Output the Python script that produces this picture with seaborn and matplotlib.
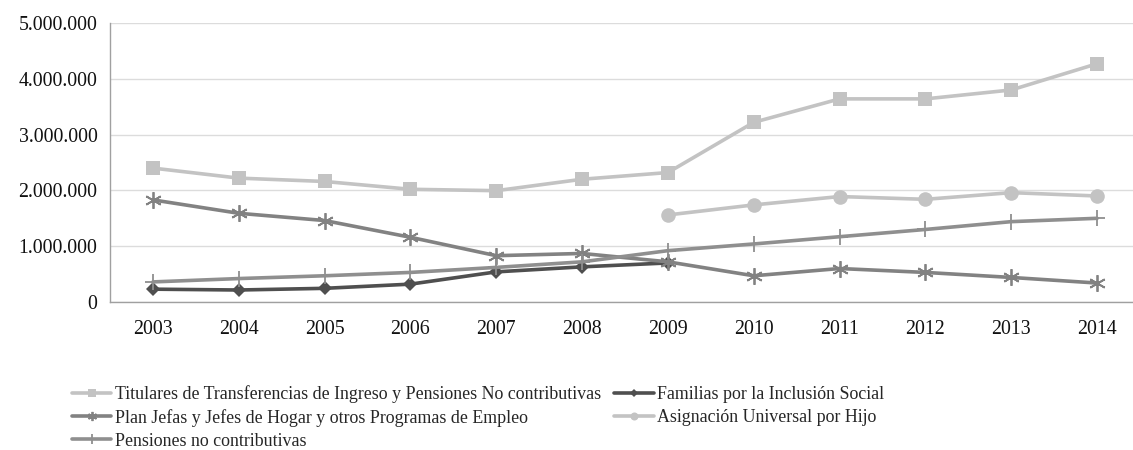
import matplotlib
matplotlib.use("Agg")
import matplotlib.pyplot as plt
import matplotlib.ticker as mticker
import seaborn as sns
import pandas as pd
import numpy as np

years = [2003, 2004, 2005, 2006, 2007, 2008, 2009, 2010, 2011, 2012, 2013, 2014]
titulares = [2400000, 2220000, 2160000, 2020000, 1995000, 2200000, 2320000, 3220000, 3640000, 3640000, 3800000, 4270000]
familias = [230000, 215000, 245000, 320000, 540000, 630000, 700000, None, None, None, None, None]
plan_jefas = [1830000, 1590000, 1460000, 1160000, 830000, 870000, 720000, 470000, 600000, 530000, 440000, 340000]
auh = [None, None, None, None, None, None, 1560000, 1740000, 1890000, 1840000, 1960000, 1900000]
pensiones = [360000, 420000, 470000, 530000, 620000, 720000, 920000, 1040000, 1170000, 1300000, 1440000, 1500000]

names = {
    "tit": "Titulares de Transferencias de Ingreso y Pensiones No contributivas",
    "fam": "Familias por la Inclusión Social",
    "plan": "Plan Jefas y Jefes de Hogar y otros Programas de Empleo",
    "auh": "Asignación Universal por Hijo",
    "pen": "Pensiones no contributivas",
}
series = {"tit": titulares, "fam": familias, "plan": plan_jefas, "auh": auh, "pen": pensiones}

rows = []
for key, vals in series.items():
    for y, v in zip(years, vals):
        if v is not None:
            rows.append({"year": y, "value": v, "serie": names[key]})
df = pd.DataFrame(rows)

colors = {
    names["tit"]: "#c3c3c3",
    names["fam"]: "#4f4f4f",
    names["plan"]: "#828282",
    names["auh"]: "#c3c3c3",
    names["pen"]: "#8f8f8f",
}
markers = {
    names["tit"]: "s",
    names["fam"]: "D",
    names["plan"]: (6, 2, 0),
    names["auh"]: "o",
    names["pen"]: "+",
}
msizes = {
    names["tit"]: 10,
    names["fam"]: 7.5,
    names["plan"]: 12,
    names["auh"]: 10.5,
    names["pen"]: 12,
}

sns.set_theme(style="white")
plt.rcParams["font.family"] = ["Liberation Serif", "DejaVu Serif"]

fig = plt.figure(figsize=(11.33, 4.5), dpi=100)
ax = fig.add_axes([110 / 1133, 1 - 302 / 450, 1030 / 1133, 279 / 450])

order = ["tit", "fam", "plan", "auh", "pen"]
for key in order:
    sub = df[df["serie"] == names[key]]
    sns.lineplot(data=sub, x="year", y="value", ax=ax, color=colors[names[key]],
                 marker=markers[names[key]], markersize=msizes[names[key]],
                 markeredgewidth=1.3 if key in ("plan", "pen") else 0,
                 markeredgecolor=colors[names[key]],
                 linewidth=2.6, label=names[key], legend=False)

ax.set_xlim(2002.5, 2014.5)
ax.set_ylim(0, 5000000)
ax.set_xticks(years)
ax.set_xticklabels([str(y) for y in years])
ax.set_xticks(np.arange(2002.5, 2015, 1), minor=True)
ax.set_yticks(np.arange(0, 5000001, 1000000))
ax.yaxis.set_major_formatter(mticker.FuncFormatter(lambda v, p: f"{int(v):,}".replace(",", ".")))
ax.set_xlabel("")
ax.set_ylabel("")
ax.grid(axis="y", color="#dcdcdc", linewidth=1)
ax.grid(axis="x", visible=False)
for s in ["top", "right"]:
    ax.spines[s].set_visible(False)
for s in ["left", "bottom"]:
    ax.spines[s].set_color("#a0a0a0")
    ax.spines[s].set_linewidth(1)
ax.tick_params(axis="x", which="major", length=0, pad=13, labelsize=14.3, colors="#111111")
ax.tick_params(axis="x", which="minor", length=5, width=1, color="#a0a0a0", direction="out")
ax.tick_params(axis="y", which="major", length=5, width=1, color="#a0a0a0", direction="out",
               labelsize=14.3, pad=4, labelcolor="#111111")

handles, labels = ax.get_legend_handles_labels()
hmap = dict(zip(labels, handles))
leg_order = ["tit", "plan", "pen", "fam", "auh"]
leg = fig.legend([hmap[names[k]] for k in leg_order], [names[k] for k in leg_order],
                 ncol=2, loc="upper left", bbox_to_anchor=(72 / 1133, 1 - 385 / 450),
                 frameon=False, fontsize=12.9, handlelength=2.2, handletextpad=0.2,
                 columnspacing=0.73, labelspacing=0.33, markerscale=0.55,
                 borderaxespad=0, borderpad=0)

fig.savefig("out.png", dpi=100)
